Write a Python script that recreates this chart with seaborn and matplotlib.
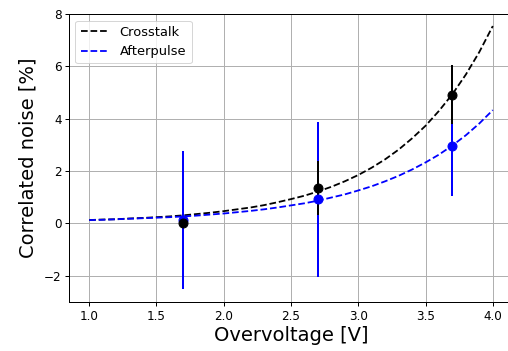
import numpy as np
import pandas as pd
import seaborn as sns
import matplotlib
matplotlib.use("Agg")
import matplotlib.pyplot as plt

# fit curves, every 0.1 V
overvoltage_fit = [1.0, 1.1, 1.2, 1.3, 1.4, 1.5, 1.6, 1.7, 1.8, 1.9, 2.0,
                   2.1, 2.2, 2.3, 2.4, 2.5, 2.6, 2.7, 2.8, 2.9, 3.0,
                   3.1, 3.2, 3.3, 3.4, 3.5, 3.6, 3.7, 3.8, 3.9, 4.0]
crosstalk_fit = [0.13, 0.15, 0.16, 0.19, 0.21, 0.24, 0.27, 0.31, 0.36, 0.41, 0.47,
                 0.54, 0.61, 0.70, 0.81, 0.93, 1.06, 1.22, 1.40, 1.61, 1.85,
                 2.13, 2.45, 2.82, 3.25, 3.73, 4.30, 4.94, 5.69, 6.55, 7.54]
afterpulse_fit = [0.13, 0.14, 0.16, 0.18, 0.20, 0.22, 0.24, 0.27, 0.30, 0.34, 0.38,
                  0.43, 0.48, 0.54, 0.61, 0.69, 0.77, 0.87, 0.99, 1.11, 1.26,
                  1.42, 1.61, 1.82, 2.06, 2.33, 2.63, 2.98, 3.37, 3.82, 4.33]

# measured points
overvoltage_meas = [1.7, 2.7, 3.7]
crosstalk_meas = [0.0, 1.35, 4.92]
crosstalk_err = [0.15, 1.02, 1.13]
afterpulse_meas = [0.13, 0.92, 2.97]
afterpulse_err = [2.63, 2.97, 1.92]

fits = pd.DataFrame({
    "Overvoltage": overvoltage_fit * 2,
    "Noise": crosstalk_fit + afterpulse_fit,
    "Kind": ["Crosstalk"] * len(overvoltage_fit) + ["Afterpulse"] * len(overvoltage_fit),
})

sns.set_style("ticks")
plt.rcParams["font.family"] = ["DejaVu Sans"]
plt.rcParams["text.color"] = "black"
plt.rcParams["axes.labelcolor"] = "black"

fig = plt.figure(figsize=(508 / 72, 351 / 72), dpi=72)
ax = fig.add_axes([0.1358, 0.1396, 0.874, 0.8205])

sns.lineplot(data=fits, x="Overvoltage", y="Noise", hue="Kind",
             palette={"Crosstalk": "black", "Afterpulse": "blue"},
             linestyle="--", linewidth=1.8, ax=ax)

ax.errorbar(overvoltage_meas, afterpulse_meas, yerr=afterpulse_err, fmt="o",
            color="blue", markersize=9, elinewidth=2)
ax.errorbar(overvoltage_meas, crosstalk_meas, yerr=crosstalk_err, fmt="o",
            color="black", markersize=9, elinewidth=2)

ax.set_xlim(0.85, 4.15)
ax.set_ylim(-3, 8)
ax.set_xticks([1.0, 1.5, 2.0, 2.5, 3.0, 3.5, 4.0])
ax.set_yticks([-2, 0, 2, 4, 6, 8])
ax.grid(True, color="#b0b0b0", linewidth=1)
ax.tick_params(labelsize=12, length=4, width=1, colors="black")
for s in ax.spines.values():
    s.set_color("black")
    s.set_linewidth(1)

ax.set_xlabel("Overvoltage [V]", fontsize=19.5, labelpad=3, color="black")
ax.set_ylabel("Correlated noise [%]", fontsize=19.5, labelpad=6, color="black")
leg = ax.legend(title=None, loc="upper left", fontsize=13, framealpha=0.8,
                handlelength=2.2)
for t in leg.get_texts():
    t.set_color("black")

fig.savefig("out.png", dpi=72)
